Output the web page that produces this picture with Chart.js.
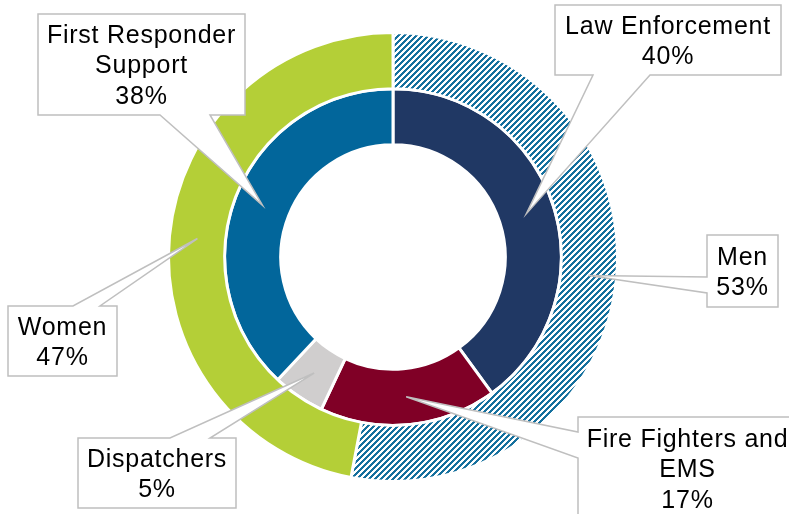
<!DOCTYPE html>
<html>
<head>
<meta charset="utf-8">
<script src="https://cdn.jsdelivr.net/npm/chart.js@4"></script>
<style>
  html, body { margin: 0; padding: 0; background: #fff; }
  #wrap { width: 789px; height: 514px; }
</style>
</head>
<body>
<div id="wrap"><canvas id="myChart" width="789" height="514"></canvas></div>
<script>
// outer ring
const genderLabels = ['Men', 'Women'];
const genderValues = [53, 47];
// inner ring
const roleLabels = ['Law Enforcement', 'Fire Fighters and EMS', 'Dispatchers', 'First Responder Support'];
const roleValues = [40, 17, 5, 38];

// diagonal hatch for the "Men" slice
function makeHatch() {
    const c = document.createElement('canvas');
    c.width = 6; c.height = 6;
    const g = c.getContext('2d');
    g.fillStyle = '#fff';
    g.fillRect(0, 0, 6, 6);
    g.fillStyle = '#15709e';
    for (let x = 0; x < 6; x++) {
        for (let y = 0; y < 6; y++) {
            if ((x + y) % 6 < 3) g.fillRect(x, y, 1, 1);
        }
    }
    return g.createPattern(c, 'repeat');
}

const ctx = document.getElementById('myChart').getContext('2d');

// callout boxes: which arc they point at, box rect, side + span where the wedge leaves the box
const callouts = [
    { ds: 1, idx: 3, text: ['First Responder', 'Support', '38%'], box: [38, 14, 245, 115], side: 'bottom', span: [160, 210] },
    { ds: 1, idx: 0, text: ['Law Enforcement', '40%'], box: [555, 5, 781, 75], side: 'bottom', span: [593, 650] },
    { ds: 0, idx: 0, text: ['Men', '53%'], box: [707, 235, 778, 307], side: 'left', span: [277, 293] },
    { ds: 0, idx: 1, text: ['Women', '47%'], box: [8, 306, 117, 376], side: 'top', span: [73, 100] },
    { ds: 1, idx: 2, text: ['Dispatchers', '5%'], box: [78, 438, 236, 508], side: 'top', span: [170, 210] },
    { ds: 1, idx: 1, text: ['Fire Fighters and', 'EMS', '17%'], box: [578, 417, 797, 520], side: 'left', span: [432, 458] }
];

const calloutPlugin = {
    id: 'callouts',
    afterDraw(chart) {
        const c = chart.ctx;
        c.save();
        callouts.forEach(co => {
            const arc = chart.getDatasetMeta(co.ds).data[co.idx];
            const tip = arc.getCenterPoint();
            const [x1, y1, x2, y2] = co.box;
            const [a, b] = co.span;
            const pts = [[x1, y1]];
            if (co.side === 'top') pts.push([a, y1], [tip.x, tip.y], [b, y1]);
            pts.push([x2, y1], [x2, y2]);
            if (co.side === 'bottom') pts.push([b, y2], [tip.x, tip.y], [a, y2]);
            pts.push([x1, y2]);
            if (co.side === 'left') pts.push([x1, b], [tip.x, tip.y], [x1, a]);

            c.beginPath();
            pts.forEach((p, i) => i ? c.lineTo(p[0], p[1]) : c.moveTo(p[0], p[1]));
            c.closePath();
            c.fillStyle = '#fff';
            c.fill();
            c.lineWidth = 1.5;
            c.strokeStyle = '#bfbfbf';
            c.lineJoin = 'miter';
            c.stroke();

            c.fillStyle = '#000';
            c.font = '25px "Liberation Sans", Arial, sans-serif';
            c.letterSpacing = '0.75px';
            c.textAlign = 'center';
            c.textBaseline = 'alphabetic';
            const lh = 30.5;
            const cx = (x1 + x2) / 2;
            const cy = (y1 + y2) / 2;
            const n = co.text.length;
            const capH = 25 * 0.716;
            const firstBase = cy - ((n - 1) * lh) / 2 + capH / 2;
            co.text.forEach((t, i) => c.fillText(t, cx, firstBase + i * lh));
        });
        c.restore();
    }
};

new Chart(ctx, {
    type: 'doughnut',
    data: {
        labels: roleLabels,
        datasets: [
            {
                label: 'Gender',
                labels: genderLabels,
                data: genderValues,
                backgroundColor: [makeHatch(), '#b4cf37'],
                borderColor: '#fff',
                borderWidth: 3
            },
            {
                label: 'Role',
                labels: roleLabels,
                data: roleValues,
                backgroundColor: ['#203864', '#800026', '#d0cece', '#02669b'],
                borderColor: '#fff',
                borderWidth: 3
            }
        ]
    },
    options: {
        responsive: false,
        animation: false,
        cutout: '50%',
        layout: { padding: { top: 31, bottom: 31, left: 0, right: 3 } },
        plugins: {
            legend: { display: false },
            tooltip: { enabled: false }
        }
    },
    plugins: [calloutPlugin]
});
</script>
</body>
</html>
